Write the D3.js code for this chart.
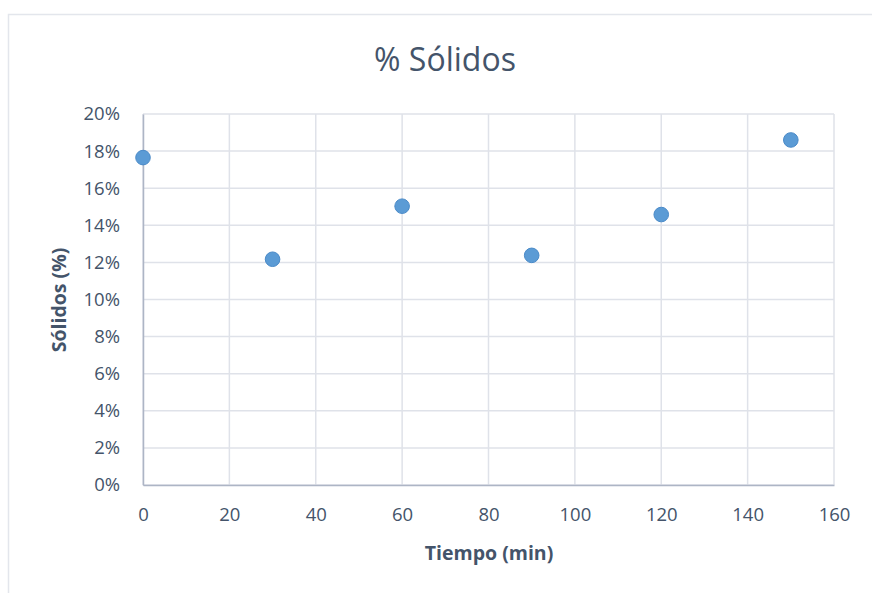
<!DOCTYPE html>
<html>
<head>
<meta charset="utf-8">
<script src="https://cdn.jsdelivr.net/npm/d3@7"></script>
<style>
  body { margin: 0; background: #fff; }
  text { font-family: "Open Sans", "Noto Sans", sans-serif; fill: #44546a; }
</style>
</head>
<body>
<svg></svg>
<script>
var tiempo = [0, 30, 60, 90, 120, 150];
var solidos = [17.65, 12.17, 15.03, 12.38, 14.58, 18.6];
var xTicks = [0, 20, 40, 60, 80, 100, 120, 140, 160];
var yTicks = [0, 2, 4, 6, 8, 10, 12, 14, 16, 18, 20];

var screen = {width: 872, height: 593};
var margins = {left: 143, right: 38, top: 114, bottom: 108};
var graph = {
    width: screen.width - margins.left - margins.right,
    height: screen.height - margins.top - margins.bottom
};

var svg = d3.select("svg")
    .attr("width", screen.width)
    .attr("height", screen.height);

// chart frame
svg.append("rect")
    .attr("x", 8.5).attr("y", 14.5)
    .attr("width", 900).attr("height", 700)
    .attr("fill", "none")
    .attr("stroke", "#e3e6ec")
    .attr("stroke-width", 1.5);

var xScale = d3.scaleLinear().domain([0, 160]).range([0, graph.width]);
var yScale = d3.scaleLinear().domain([0, 20]).range([graph.height, 0]);

var target = svg.append("g")
    .attr("id", "graph")
    .attr("transform", "translate(" + margins.left + "," + margins.top + ")");

// gridlines
target.append("g")
    .selectAll("line")
    .data(yTicks)
    .enter()
    .append("line")
    .attr("x1", 0).attr("x2", graph.width)
    .attr("y1", function(d) { return yScale(d); })
    .attr("y2", function(d) { return yScale(d); })
    .attr("stroke", "#dfe2e9").attr("stroke-width", 1.5);

target.append("g")
    .selectAll("line")
    .data(xTicks)
    .enter()
    .append("line")
    .attr("x1", function(d) { return xScale(d); })
    .attr("x2", function(d) { return xScale(d); })
    .attr("y1", 0).attr("y2", graph.height)
    .attr("stroke", "#dfe2e9").attr("stroke-width", 1.5);

// axes
var xAxis = target.append("g")
    .attr("transform", "translate(0," + graph.height + ")")
    .call(d3.axisBottom(xScale).tickValues(xTicks).tickSize(0).tickPadding(23));
var yAxis = target.append("g")
    .call(d3.axisLeft(yScale).tickValues(yTicks).tickSize(0).tickPadding(23)
        .tickFormat(function(d) { return d + "%"; }));

[xAxis, yAxis].forEach(function(a) {
    a.select(".domain").attr("stroke", "#adb5c5").attr("stroke-width", 1.5);
    a.selectAll("text")
        .attr("font-size", "18.5px")
        .attr("fill", "#44546a")
        .attr("font-family", "'Open Sans', sans-serif");
});
xAxis.selectAll("text").attr("dy", "0.71em");

// points
target.append("g")
    .selectAll("circle")
    .data(tiempo)
    .enter()
    .append("circle")
    .attr("cx", function(d) { return xScale(d); })
    .attr("cy", function(d, i) { return yScale(solidos[i]); })
    .attr("r", 7.3)
    .attr("fill", "#5b9bd5")
    .attr("stroke", "#4a8ac8")
    .attr("stroke-width", 1);

// titles
svg.append("text")
    .attr("x", 445).attr("y", 71)
    .attr("text-anchor", "middle")
    .attr("font-size", "32px")
    .text("% Sólidos");

svg.append("text")
    .attr("x", 489).attr("y", 560)
    .attr("text-anchor", "middle")
    .attr("font-size", "19.5px")
    .attr("font-weight", "bold")
    .text("Tiempo (min)");

svg.append("text")
    .attr("transform", "translate(66," + 300 + ") rotate(-90)")
    .attr("text-anchor", "middle")
    .attr("font-size", "19.5px")
    .attr("font-weight", "bold")
    .text("Sólidos (%)");
</script>
</body>
</html>
